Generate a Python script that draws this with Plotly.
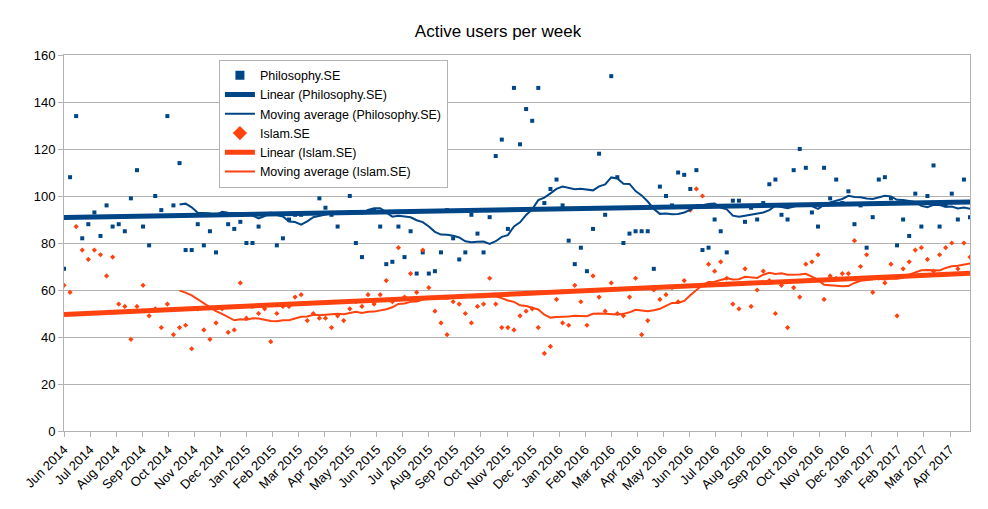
import numpy as np
import plotly.graph_objects as go

# ---------------- data ----------------
month_labels = [
    "Jun 2014", "Jul 2014", "Aug 2014", "Sep 2014", "Oct 2014", "Nov 2014", "Dec 2014",
    "Jan 2015", "Feb 2015", "Mar 2015", "Apr 2015", "May 2015", "Jun 2015", "Jul 2015",
    "Aug 2015", "Sep 2015", "Oct 2015", "Nov 2015", "Dec 2015", "Jan 2016", "Feb 2016",
    "Mar 2016", "Apr 2016", "May 2016", "Jun 2016", "Jul 2016", "Aug 2016", "Sep 2016",
    "Oct 2016", "Nov 2016", "Dec 2016", "Jan 2017", "Feb 2017", "Mar 2017", "Apr 2017",
]

# weekly active users, Philosophy.SE
philosophy = [
    69, 108, 134, 82, 88, 93, 83, 96, 87, 88,
    85, 99, 111, 87, 79, 100, 94, 134, 96, 114,
    77, 77, 88, 79, 85, 76, 114, 88, 86, 89,
    80, 80, 87, 107, 108, 79, 82, 90, 92, 92,
    105, 113, 99, 95, 92, 87, 108, 100, 80, 74,
    112, 94, 87, 71, 72, 87, 74, 85, 67, 76,
    67, 68, 76, 94, 82, 73, 76, 92, 84, 76,
    91, 117, 124, 86, 146, 122, 137, 132, 146, 97,
    103, 107, 96, 81, 71, 78, 68, 86, 118, 92,
    151, 108, 80, 84, 85, 85, 85, 69, 104, 100,
    96, 110, 109, 103, 111, 77, 78, 90, 85, 76,
    98, 98, 89, 95, 90, 97, 105, 107, 92, 90,
    111, 120, 112, 93, 87, 112, 99, 107, 97, 102,
    88, 96, 78, 91, 107, 108, 99, 79, 90, 83,
    101, 87, 100, 113, 87, 96, 101, 90, 107, 91,
]

# weekly active users, Islam.SE
islam = [
    62, 59, 87, 77, 73, 77, 75, 66, 74, 54,
    53, 39, 53, 62, 49, 52, 44, 54, 41, 44,
    45, 35, 52, 43, 39, 46, 52, 42, 43, 63,
    48, 53, 50, 52, 38, 50, 53, 53, 57, 58,
    47, 50, 48, 48, 44, 49, 47, 52, 55, 53,
    58, 54, 58, 64, 55, 78, 57, 67, 59, 77,
    61, 51, 46, 41, 55, 54, 50, 46, 53, 54,
    65, 54, 44, 44, 43, 49, 51, 52, 44, 33,
    36, 56, 46, 45, 62, 55, 45, 66, 57, 51,
    63, 50, 49, 57, 65, 41, 47, 60, 56, 58,
    61, 55, 64, 94, 103, 100, 71, 68, 72, 65,
    54, 52, 69, 53, 60, 68, 64, 50, 62, 44,
    61, 57, 71, 72, 75, 56, 66, 65, 67, 67,
    81, 70, 75, 59, 65, 63, 71, 49, 69, 72,
    77, 78, 73, 68, 75, 78, 80, 69, 80, 74,
]

DAYS_PER_WEEK = 7
DAYS_PER_TICK = 30
MA_PERIOD = 20

BLUE = "#004586"
ORANGE = "#ff420e"
GRID = "#b3b3b3"
FONT = "Liberation Sans, Arial, sans-serif"

x = np.arange(len(philosophy)) * DAYS_PER_WEEK
tickvals = [k * DAYS_PER_TICK for k in range(len(month_labels))]


def moving_average(vals, n):
    v = np.asarray(vals, dtype=float)
    out = np.convolve(v, np.ones(n) / n, mode="valid")
    return x[n - 1:], out


def linear(vals):
    slope, icpt = np.polyfit(x, np.asarray(vals, dtype=float), 1)
    xs = np.array([x[0], x[-1]])
    return xs, slope * xs + icpt


fig = go.Figure()

# data points (legend shown through the proxy entries below)
fig.add_trace(go.Scatter(
    x=x, y=philosophy, mode="markers", name="Philosophy.SE", showlegend=False,
    marker=dict(symbol="square", size=4, color=BLUE),
))
fig.add_trace(go.Scatter(
    x=x, y=islam, mode="markers", name="Islam.SE", showlegend=False,
    marker=dict(symbol="diamond", size=4, color=ORANGE),
))

# legend proxies with larger symbols
fig.add_trace(go.Scatter(x=[None], y=[None], mode="markers", name="Philosophy.SE",
                         legendrank=1, marker=dict(symbol="square", size=9, color=BLUE)))
fig.add_trace(go.Scatter(x=[None], y=[None], mode="markers", name="Islam.SE",
                         legendrank=4, marker=dict(symbol="diamond", size=11, color=ORANGE)))

lx, ly = linear(philosophy)
fig.add_trace(go.Scatter(x=lx, y=ly, mode="lines", name="Linear (Philosophy.SE)",
                         legendrank=2, line=dict(color=BLUE, width=5)))
lx, ly = linear(islam)
fig.add_trace(go.Scatter(x=lx, y=ly, mode="lines", name="Linear (Islam.SE)",
                         legendrank=5, line=dict(color=ORANGE, width=5)))

mx, my = moving_average(philosophy, MA_PERIOD)
fig.add_trace(go.Scatter(x=mx, y=my, mode="lines", name="Moving average (Philosophy.SE)",
                         legendrank=3, line=dict(color=BLUE, width=2)))
mx, my = moving_average(islam, MA_PERIOD)
fig.add_trace(go.Scatter(x=mx, y=my, mode="lines", name="Moving average (Islam.SE)",
                         legendrank=6, line=dict(color=ORANGE, width=2)))

# the page body adds an 8px offset, so the figure is 8px smaller in each direction
fig.update_layout(
    width=980, height=501,
    margin=dict(l=56, r=18, t=47, b=78, autoexpand=False),
    paper_bgcolor="white", plot_bgcolor="white",
    font=dict(family=FONT, size=13, color="black"),
    title=dict(text="Active users per week", x=0.5, xanchor="center",
               y=1 - 23 / 501, yanchor="middle", yref="container",
               font=dict(family=FONT, size=17, color="black")),
    legend=dict(x=0.171, y=0.9875, xanchor="left", yanchor="top",
                bgcolor="white", bordercolor=GRID, borderwidth=1,
                font=dict(family=FONT, size=12.5, color="black"),
                itemwidth=30, tracegroupgap=0),
    showlegend=True,
)
fig.update_xaxes(
    range=[x[0], x[-1]], tickmode="array", tickvals=tickvals, ticktext=month_labels,
    tickangle=-45, ticks="outside", ticklen=5, tickcolor=GRID, automargin=False,
    showline=True, linecolor=GRID, linewidth=1, mirror=True,
    showgrid=False, zeroline=False, tickfont=dict(size=13),
)
fig.update_yaxes(
    range=[0, 160], dtick=20, ticks="outside", ticklen=5, tickcolor=GRID, automargin=False,
    showline=True, linecolor=GRID, linewidth=1, mirror=True,
    showgrid=True, gridcolor=GRID, gridwidth=1, zeroline=False, tickfont=dict(size=13),
)

fig.write_html("out.html")
